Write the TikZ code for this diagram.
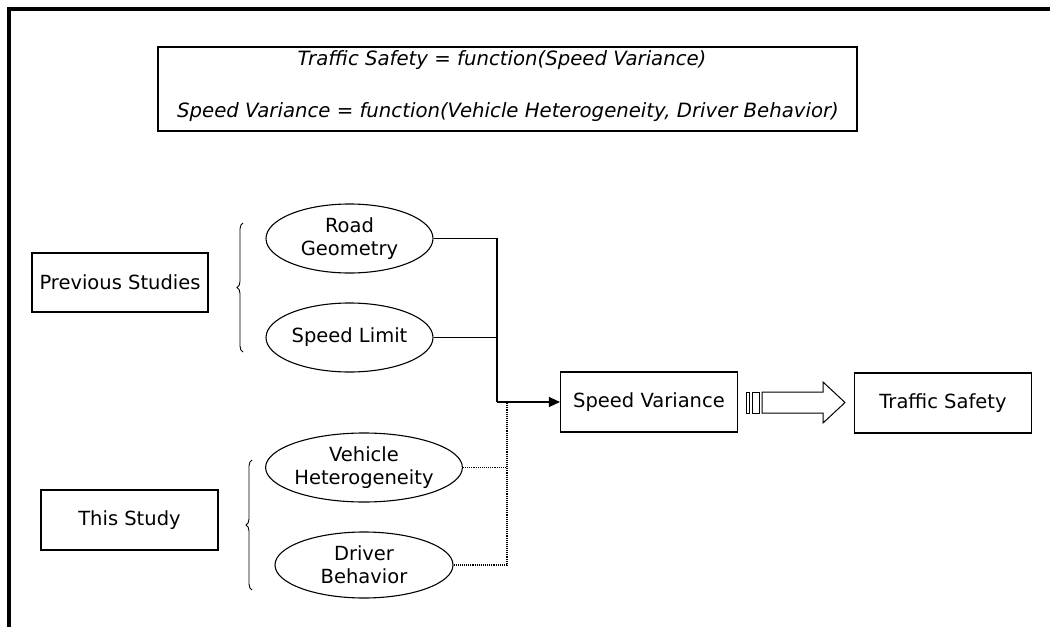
\documentclass[tikz,border=0pt]{standalone}
\usepackage{fontspec}
\setmainfont{DejaVu Sans}
\usetikzlibrary{arrows.meta,decorations.pathreplacing,shapes.geometric}
\begin{document}
\begin{tikzpicture}[x=1pt,y=-1pt,
  lbl/.style={font=\fontsize{19.5}{23}\selectfont, align=center, text=black},
  eqtext/.style={font=\fontsize{19.7}{23}\selectfont\itshape, anchor=base},
  rectbox/.style={lbl, draw, line width=1.1pt, minimum width=177pt, minimum height=60pt, inner sep=0pt},
  oval/.style={lbl, draw, ellipse, line width=1.1pt, inner sep=0pt},
  link/.style={line width=1.1pt},
  dotlink/.style={line width=1.1pt, densely dotted},
  bracestyle/.style={line width=0.9pt, decorate, decoration={brace, amplitude=6pt}},
  blockarrow/.style={line width=1pt, fill=white, line join=miter}
]
\useasboundingbox (0,0) rectangle (1050,627);

% outer frame (top and left edges only)
\draw[line width=4pt, line join=miter] (1050,9) -- (9,9) -- (9,627);

% model equations
\node[draw, line width=1.1pt, minimum width=699pt, minimum height=84pt, inner sep=0pt] (formula) at (507.5,89) {};
\node[eqtext] (eq1) at (502,65) {Traffic Safety = function(Speed Variance)};
\node[eqtext] (eq2) at (508,117) {Speed Variance = function(Vehicle Heterogeneity, Driver Behavior)};

% study groups
\node[rectbox, minimum width=176pt, minimum height=59pt] (prev) at (120,282.5) {Previous Studies};
\node[rectbox] (this) at (129.5,520) {This Study};

% braces
\draw[bracestyle] (243,352) -- (243,223);
\draw[bracestyle] (252,590) -- (252,460);

% factors
\node[oval, minimum width=167pt, minimum height=69pt] (rg) at (349.5,238.5) {Road\\Geometry};
\node[oval, minimum width=167pt, minimum height=69pt] (sl) at (349.5,337.5) {Speed Limit};
\node[oval, minimum width=178pt, minimum height=69pt] (vh) at (364,467.5) {Vehicle\\Heterogeneity};
\node[oval, minimum width=178pt, minimum height=66pt] (db) at (364,565) {Driver\\Behavior};

% outcome boxes
\node[rectbox] (sv) at (649,402) {Speed Variance};
\node[rectbox] (ts) at (943,403) {Traffic Safety};

% connectors
\coordinate (j1) at (497,402);
\coordinate (j2) at (507,402);
\draw[link] (rg.east) -| (j1);
\draw[link] (sl.east) -- (sl.east -| j1);
\draw[link, -{Triangle[length=11pt,width=10pt]}] (j1) -- (sv.west);
\draw[dotlink] (vh.east) -- (vh.east -| j2);
\draw[dotlink] (db.east) -| (j2);

% striped block arrow
\draw[blockarrow] (746,392) rectangle (749,413);
\draw[blockarrow] (752,392) rectangle (759,413);
\draw[blockarrow] (762,392) -- (823,392) -- (823,382) -- (845,402.5) -- (823,423) -- (823,413) -- (762,413) -- cycle;
\end{tikzpicture}
\end{document}
